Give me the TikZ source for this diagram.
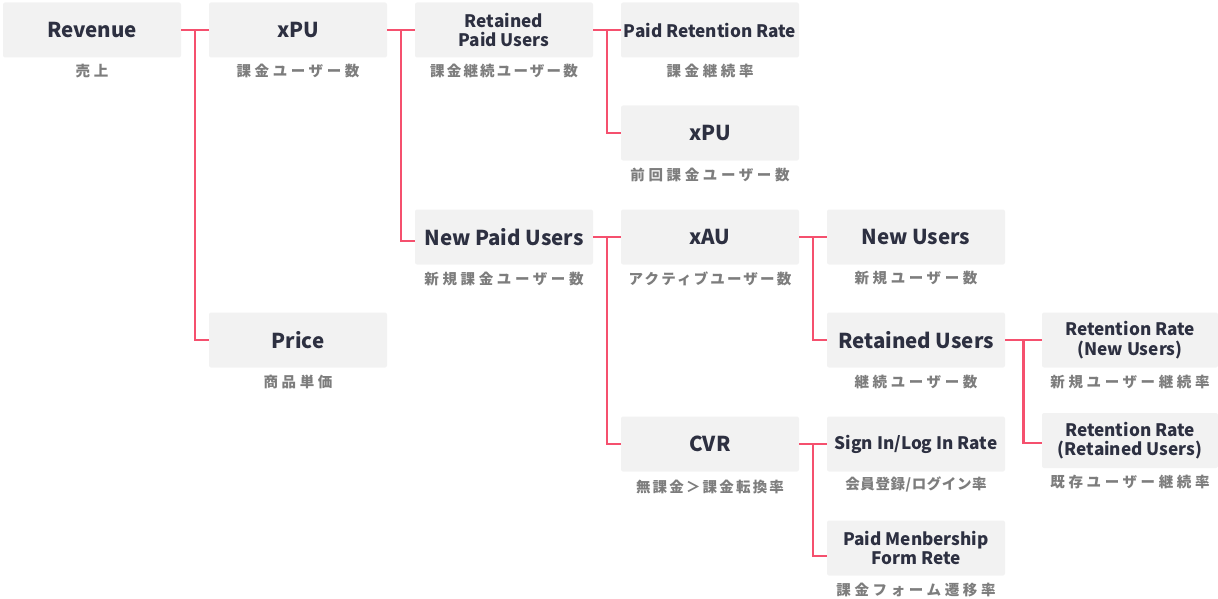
\documentclass[tikz,border=0pt]{standalone}
\usepackage{fontspec}
\setmainfont{Noto Sans CJK JP}
\newfontfamily\captionfont[LetterSpace=25]{Noto Sans CJK JP}
\newfontfamily\captionfontnarrow[LetterSpace=15]{Noto Sans CJK JP}
\newfontfamily\captionfonttight[LetterSpace=4]{Noto Sans CJK JP}
\usetikzlibrary{calc}

\definecolor{boxfill}{HTML}{F2F2F2}
\definecolor{ink}{HTML}{2D3041}
\definecolor{captiongray}{HTML}{7D7D7D}
\definecolor{linkred}{HTML}{F5506E}

\tikzset{
  metric/.style={fill=boxfill, rounded corners=2pt, minimum width=178pt,
    minimum height=55pt, inner sep=0pt, text=ink, align=center,
    font=\bfseries\fontsize{20.5}{24}\selectfont},
  compact/.style={font=\bfseries\fontsize{17.2}{19.5}\selectfont},
  caption/.style={text=captiongray, inner sep=0pt,
    font=\captionfont\bfseries\fontsize{14.5}{16}\selectfont},
  caption narrow/.style={caption,
    font=\captionfontnarrow\bfseries\fontsize{14.5}{16}\selectfont},
  caption tight/.style={caption,
    font=\captionfonttight\bfseries\fontsize{14.5}{16}\selectfont},
  link/.style={draw=linkred, line width=2.8pt}
}

\begin{document}
\begin{tikzpicture}[x=1pt, y=-1pt]
\useasboundingbox (0,0) rectangle (1218,599);

% metric boxes
\node[metric] (rev)   at (92,30)    {Revenue};
\node[metric] (xpu)   at (298,30)   {xPU};
\node[metric] (price) at (298,340)  {Price};
\node[metric, compact] (rpu) at (504,30) {Retained\\Paid Users};
\node[metric] (npu)   at (504,237)  {New Paid Users};
\node[metric, compact] (prr) at (710,30) {Paid Retention Rate};
\node[metric] (pxpu)  at (710,133)  {xPU};
\node[metric] (xau)   at (710,237)  {xAU};
\node[metric] (cvr)   at (710,444)  {CVR};
\node[metric] (nu)    at (916,237)  {New Users};
\node[metric] (ru)    at (916,340)  {Retained Users};
\node[metric, compact] (sign) at (916,444) {Sign In/Log In Rate};
\node[metric, compact] (pmf)  at (916,548) {Paid Menbership\\Form Rete};
\node[metric, compact, minimum width=176pt] (rrn) at (1130,340) {Retention Rate\\(New Users)};
\node[metric, compact, minimum width=176pt] (rrr) at (1130,440.5) {Retention Rate\\(Retained Users)};

% captions
\node[caption] (crev)   at (92,71)    {売上};
\node[caption] (cxpu)   at (298,71)   {課金ユーザー数};
\node[caption] (cprice) at (298,382)  {商品単価};
\node[caption narrow] (crpu) at (504,71) {課金継続ユーザー数};
\node[caption] (cnpu)   at (504,279)  {新規課金ユーザー数};
\node[caption] (cprr)   at (710,71)   {課金継続率};
\node[caption] (cpxpu)  at (710,175)  {前回課金ユーザー数};
\node[caption narrow] (cxau) at (710,279) {アクティブユーザー数};
\node[caption narrow] (ccvr) at (710,487) {無課金＞課金転換率};
\node[caption] (cnu)    at (916,278)  {新規ユーザー数};
\node[caption] (cru)    at (916,382)  {継続ユーザー数};
\node[caption tight] (csign) at (916,484) {会員登録/ログイン率};
\node[caption] (cpmf)   at (916,590)  {課金フォーム遷移率};
\node[caption] (crrn)   at (1130,382) {新規ユーザー継続率};
\node[caption] (crrr)   at (1130,482) {既存ユーザー継続率};

% connectors
\coordinate (npuin) at ($(npu.west)+(0,4)$);
\coordinate (pmfin) at ($(pmf.west)+(0,8)$);

\draw[link] (rev.east) -- (xpu.west);
\draw[link] ($(rev.east)!0.5!(xpu.west)$) |- (price.west);

\draw[link] (xpu.east) -- (rpu.west);
\draw[link] ($(xpu.east)!0.5!(rpu.west)$) |- (npuin);

\draw[link] (rpu.east) -- (prr.west);
\draw[link] ($(rpu.east)!0.5!(prr.west)$) |- (pxpu.west);

\draw[link] (npu.east) -- (xau.west);
\draw[link] ($(npu.east)!0.5!(xau.west)$) |- (cvr.west);

\draw[link] (xau.east) -- (nu.west);
\draw[link] ($(xau.east)!0.5!(nu.west)$) |- (ru.west);

\draw[link] (ru.east) -- (rrn.west);
\draw[link] ($(ru.east)!0.5!(rrn.west)$) |- ([yshift=-2.5pt]rrr.west);

\draw[link] (cvr.east) -- (sign.west);
\draw[link] ($(cvr.east)!0.5!(sign.west)$) |- (pmfin);
\end{tikzpicture}
\end{document}
